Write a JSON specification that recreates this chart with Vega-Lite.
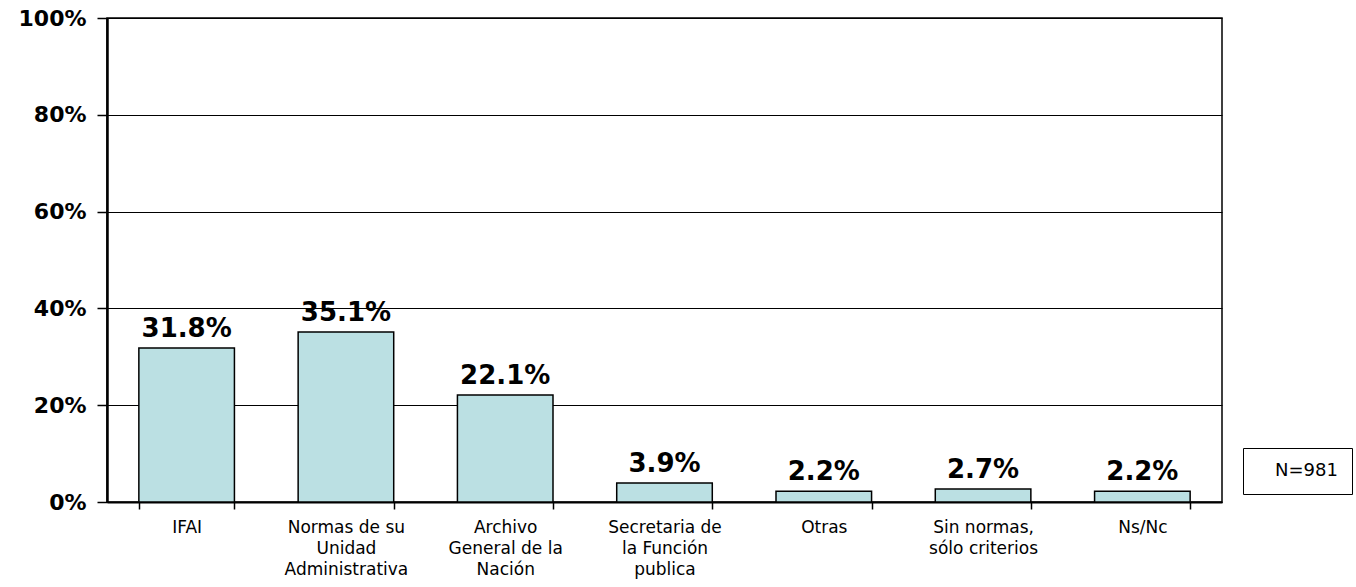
{
  "$schema": "https://vega.github.io/schema/vega-lite/v6.json",
  "width": 1115,
  "height": 484,
  "autosize": {"type": "none"},
  "padding": {"left": 107, "top": 18, "right": 134, "bottom": 85},
  "background": "white",
  "config": {
    "font": "DejaVu Sans",
    "view": {"stroke": "black", "strokeWidth": 1.5}
  },
  "data": {
    "values": [
      {"cat": "IFAI", "v": 0.318, "n": "N=981"},
      {"cat": "Normas de su|Unidad|Administrativa", "v": 0.351, "n": "N=981"},
      {"cat": "Archivo|General de la|Nación", "v": 0.221, "n": "N=981"},
      {"cat": "Secretaria de|la Función|publica", "v": 0.039, "n": "N=981"},
      {"cat": "Otras", "v": 0.022, "n": "N=981"},
      {"cat": "Sin normas,|sólo criterios", "v": 0.027, "n": "N=981"},
      {"cat": "Ns/Nc", "v": 0.022, "n": "N=981"}
    ]
  },
  "encoding": {
    "x": {
      "field": "cat",
      "type": "nominal",
      "sort": null,
      "title": null,
      "scale": {"paddingInner": 0.4, "paddingOuter": 0.2},
      "axis": {
        "labelAngle": 0,
        "labelExpr": "split(datum.label, '|')",
        "labelFont": "DejaVu Sans",
        "labelFontSize": 17,
        "labelColor": "black",
        "labelLineHeight": 21,
        "labelPadding": 10,
        "labelBaseline": "top",
        "labelLimit": 300,
        "tickBand": "extent",
        "tickColor": "black",
        "tickSize": 7,
        "tickWidth": 1.5,
        "domainColor": "black",
        "domainWidth": 2,
        "grid": false
      }
    },
    "y": {
      "field": "v",
      "type": "quantitative",
      "title": null,
      "scale": {"domain": [0, 1]},
      "axis": {
        "format": ".0%",
        "values": [0, 0.2, 0.4, 0.6, 0.8, 1],
        "labelFont": "DejaVu Sans",
        "labelFontSize": 22,
        "labelFontWeight": "bold",
        "labelColor": "black",
        "labelPadding": 11,
        "tickColor": "black",
        "tickSize": 10,
        "tickWidth": 1.5,
        "domainColor": "black",
        "domainWidth": 2.5,
        "grid": true,
        "gridColor": "black",
        "gridWidth": 1,
        "gridOpacity": 1
      }
    }
  },
  "layer": [
    {
      "mark": {"type": "bar", "stroke": "black", "strokeWidth": 1.5},
      "encoding": {
        "color": {
          "field": "n",
          "type": "nominal",
          "scale": {"range": ["#BBE0E3"]},
          "legend": {
            "title": null,
            "orient": "none",
            "legendX": 1136,
            "legendY": 430,
            "strokeColor": "black",
            "padding": 14,
            "symbolSize": 0,
            "symbolOpacity": 0,
            "symbolStrokeWidth": 0,
            "labelFont": "DejaVu Sans",
            "labelFontSize": 18,
            "labelColor": "black",
            "labelOffset": 0,
            "labelLimit": 200,
            "columnPadding": 0
          }
        }
      }
    },
    {
      "mark": {
        "type": "text",
        "baseline": "bottom",
        "dy": -6,
        "fontSize": 26,
        "fontWeight": "bold",
        "font": "DejaVu Sans",
        "color": "black"
      },
      "encoding": {
        "text": {"field": "v", "type": "quantitative", "format": ".1%"}
      }
    }
  ]
}
